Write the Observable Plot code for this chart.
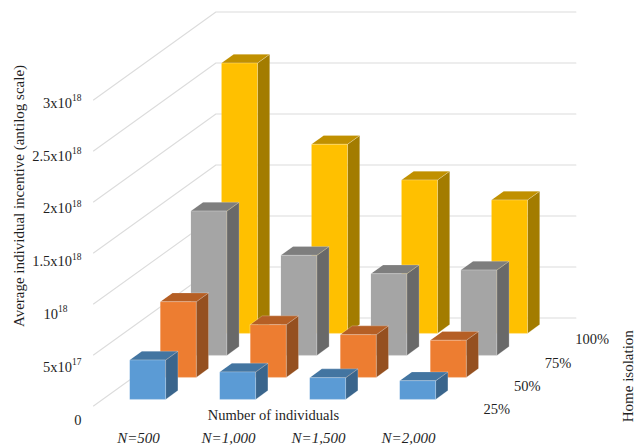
<!DOCTYPE html>
<html>
<head>
<meta charset="utf-8">
<script src="https://cdn.jsdelivr.net/npm/d3@7"></script>
<script src="https://cdn.jsdelivr.net/npm/@observablehq/plot@0.6"></script>
<style>
  html, body { margin: 0; padding: 0; background: #fff; }
  svg { display: block; }
</style>
</head>
<body>
<div id="chart"></div>
<script>
// Average individual incentive by population size and home-isolation level
const groups = ["N=500", "N=1,000", "N=1,500", "N=2,000"];
const isolation = ["25%", "50%", "75%", "100%"];
const isolated25 = [3.86e17, 2.69e17, 2.13e17, 1.83e17];
const isolated50 = [7.42e17, 5.17e17, 4.19e17, 3.64e17];
const isolated75 = [1.415e18, 9.81e17, 8.01e17, 8.37e17];
const isolated100 = [2.65e18, 1.854e18, 1.504e18, 1.308e18];
const gridValues = [0, 5e17, 1e18, 1.5e18, 2e18, 2.5e18, 3e18];
const tickBases = ["0", "5x10", "10", "1.5x10", "2x10", "2.5x10", "3x10"];
const tickPowers = ["", "17", "18", "18", "18", "18", "18"];

// Front, top and side shades of each isolation level
const faceColors = [
  {front: "#5b9bd5", top: "#4375a1", side: "#3a658c"},
  {front: "#ed7d31", top: "#b55f25", side: "#955020"},
  {front: "#a5a5a5", top: "#7e7e7e", side: "#696969"},
  {front: "#ffc000", top: "#c09000", side: "#a37c00"}
];
const seriesValues = [isolated25, isolated50, isolated75, isolated100];

// Oblique projection: each depth step slides a point right and up
const depthX = 0.34;
const depthY = 2.157e17;
const project = (u, v, z) => ({px: u + z * depthX, py: v + z * depthY});

// Three visible faces per bar, farthest row first so nearer bars overlap
const faces = [];
for (let layer = isolation.length - 1; layer >= 0; layer--) {
  groups.forEach((_, i) => {
    const value = seriesValues[layer][i];
    const x0 = i + 0.3, x1 = i + 0.7, z0 = layer + 0.3, z1 = layer + 0.7;
    const add = (name, color, corners) => {
      const id = `${layer}-${i}-${name}`;
      corners.forEach(([u, v, z]) => faces.push({id, color, ...project(u, v, z)}));
    };
    const c = faceColors[layer];
    add("side", c.side, [[x1, 0, z0], [x1, 0, z1], [x1, value, z1], [x1, value, z0]]);
    add("top", c.top, [[x0, value, z0], [x1, value, z0], [x1, value, z1], [x0, value, z1]]);
    add("front", c.front, [[x0, 0, z0], [x1, 0, z0], [x1, value, z0], [x0, value, z0]]);
  });
}

// Gridlines run along the left wall, then across the back wall
const wall = gridValues.flatMap(v => [
  {v, ...project(0, v, 0)},
  {v, ...project(0, v, 4)},
  {v, ...project(4, v, 4)}
]);

// Value labels sit slightly off the wall lines, spaced a little wider
const tickRows = tickBases.map((base, i) => ({
  base,
  power: tickPowers[i],
  y: gridValues[i] * 1.035 - 1.37e17,
  short: base === "10"
}));
const seriesRows = isolation.map((label, l) => ({
  label,
  ...project(4.163, -1.44e17 + l * 1.3e16, l + 0.5)
}));

const font = "'Liberation Serif', 'Times New Roman', serif";
const ink = "#1f1f1f";
const textSize = 14.5;
const titleSize = 15;
const powerSize = 9.5;
// Distance from the plot's left edge, in category units
const fromLeft = px => (px - 93) / 90;

const chart = Plot.plot({
  width: 644,
  height: 446,
  margin: 0,
  style: {fontFamily: font, background: "#fff", color: ink},
  x: {domain: [-93 / 90, 551 / 90], range: [0, 644], axis: null},
  y: {domain: [-40 / 102 * 1e18, 406 / 102 * 1e18], range: [445.5, -0.5], axis: null},
  color: {type: "identity"},
  marks: [
    Plot.line(wall, {x: "px", y: "py", z: "v", stroke: "#dcdcdc", strokeWidth: 1.1}),
    Plot.line(faces, {
      x: "px", y: "py", z: "id", fill: "color",
      curve: "linear-closed",
      stroke: "#fff", strokeOpacity: 0.22, strokeWidth: 1
    }),
    // Value axis: a base and a raised power for each tick
    Plot.text(tickRows.filter(d => d.power && !d.short), {
      x: () => fromLeft(71.5), y: "y",
      text: "base", textAnchor: "end", fontSize: textSize, fill: ink
    }),
    Plot.text(tickRows.filter(d => d.power && !d.short), {
      x: () => fromLeft(71.5), y: "y", dy: -5,
      text: "power", textAnchor: "start", fontSize: powerSize, fill: ink
    }),
    Plot.text(tickRows.filter(d => d.short), {
      x: () => fromLeft(57.5), y: "y",
      text: "base", textAnchor: "end", fontSize: textSize, fill: ink
    }),
    Plot.text(tickRows.filter(d => d.short), {
      x: () => fromLeft(57.5), y: "y", dy: -5,
      text: "power", textAnchor: "start", fontSize: powerSize, fill: ink
    }),
    Plot.text(tickRows.filter(d => !d.power), {
      x: () => fromLeft(81), y: "y",
      text: "base", textAnchor: "end", fontSize: textSize, fill: ink
    }),
    // Category labels under each column of bars
    Plot.text(groups, {
      x: (_, i) => i + 0.5, y: () => -3.14e17,
      text: d => d, fontSize: titleSize, fontStyle: "italic", fill: ink
    }),
    // Isolation labels step back along the depth axis
    Plot.text(seriesRows, {
      x: "px", y: "py", text: "label", textAnchor: "start", fontSize: textSize, fill: ink
    }),
    // Axis titles
    Plot.text(["Number of individuals"], {
      frameAnchor: "top-left", dx: 273, dy: 414.5, textAnchor: "middle", lineAnchor: "middle",
      fontSize: textSize, fill: ink
    }),
    Plot.text(["Average individual incentive (antilog scale)"], {
      frameAnchor: "top-left", dx: 19, dy: 195.5, rotate: -90, textAnchor: "middle", lineAnchor: "middle",
      fontSize: titleSize, fill: ink
    }),
    Plot.text(["Home isolation"], {
      frameAnchor: "top-left", dx: 628, dy: 375.7, rotate: -90, textAnchor: "middle", lineAnchor: "middle",
      fontSize: titleSize, fill: ink
    })
  ]
});
document.getElementById("chart").appendChild(chart);
</script>
</body>
</html>
